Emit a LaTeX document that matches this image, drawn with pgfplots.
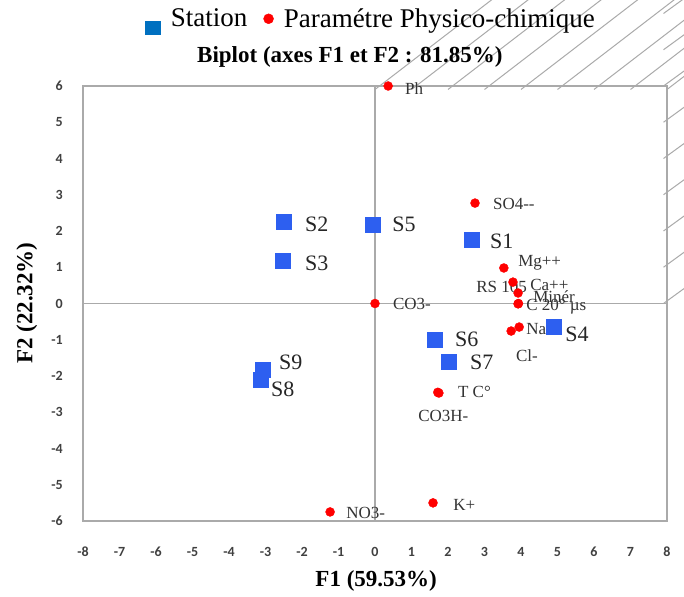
\documentclass[border=0pt]{standalone}
\usepackage{pgfplots}
\pgfplotsset{compat=1.18}
\usetikzlibrary{backgrounds}
\usepackage{fontspec}
\setmainfont{Liberation Serif}
\newfontfamily\carlito{Carlito}
\definecolor{sblue}{RGB}{45,95,240}
\definecolor{legblue}{RGB}{0,112,192}
\definecolor{axgray}{RGB}{170,170,170}
\begin{document}
\begin{tikzpicture}
\begin{axis}[
  scale only axis, width=584pt, height=435pt,
  xmin=-8, xmax=8, ymin=-6, ymax=6,
  axis line style={axgray, line width=1.5pt},
  xtick={-8,...,8}, ytick={-6,...,6},
  major tick length=0pt,
  /pgf/number format/assume math mode=true,
  tick label style={font=\carlito\bfseries\fontsize{14}{16}\selectfont, text=black!75},
  xticklabel style={anchor=center, yshift=-31pt},
  yticklabel style={anchor=east, inner sep=0pt, xshift=-20pt},
  title={Biplot (axes F1 et F2 : 81.85\%)},
  title style={font=\bfseries\fontsize{23}{27}\selectfont, at={(axis description cs:0.457,1.052)}, anchor=center},
  xlabel={F1 (59.53\%)},
  xlabel style={font=\bfseries\fontsize{23}{27}\selectfont, at={(axis description cs:0.502,-0.138)}, anchor=center},
  ylabel={F2 (22.32\%)},
  ylabel style={font=\bfseries\fontsize{23}{27}\selectfont, at={(axis description cs:-0.096,0.501)}, anchor=center},
  legend style={at={(axis description cs:0.4935,1.151)}, anchor=center, draw=none, fill=none,
    legend columns=2, font=\fontsize{27}{31}\selectfont,
    /tikz/every odd column/.append style={column sep=8pt},
    /tikz/every even column/.append style={column sep=14pt}},
  clip=false,
]
\addlegendimage{legend image code/.code={\fill[legblue] (0pt,-15pt) rectangle (15pt,-2pt);}}
\addlegendentry{Station}
\addlegendimage{legend image code/.code={\fill[red] (5pt,0pt) circle (5pt);}}
\addlegendentry{Paramétre Physico-chimique}

\draw[axgray, line width=1.2pt] (axis cs:-8,0) -- (axis cs:8,0);
\draw[axgray, line width=1.2pt] (axis cs:0,-6) -- (axis cs:0,6);
\pgfplotsinvokeforeach{-8,...,8}{\draw[axgray, line width=1pt] (axis cs:#1,0) ++(0,-3.5pt) -- ++(0,7pt);}
\pgfplotsinvokeforeach{-6,...,6}{\draw[axgray, line width=1pt] (axis cs:0,#1) ++(-3.5pt,0) -- ++(7pt,0);}

% Stations
\addplot[only marks, mark=square*, mark size=7.5pt, color=sblue, forget plot] coordinates {
  (2.66,1.75) (-2.49,2.25) (-2.52,1.17) (4.90,-0.65) (-0.05,2.18)
  (1.64,-1.00) (2.03,-1.61) (-3.13,-2.11) (-3.08,-1.83)
};
% Parameters
\addplot[only marks, mark=*, mark size=4.5pt, color=red, forget plot] coordinates {
  (0.36,6.00) (2.74,2.77) (3.53,0.98) (3.78,0.59) (3.92,0.29) (3.93,0.00)
  (3.92,-0.01) (3.95,-0.65) (3.73,-0.76) (0,0) (1.75,-2.47) (1.72,-2.45)
  (1.59,-5.50) (-1.23,-5.75)
};

% Station labels
\begin{scope}[every node/.style={anchor=west, inner sep=0pt, font=\fontsize{22}{26}\selectfont, text=black!85}]
\node at (axis cs:3.15,1.72) {S1};
\node at (axis cs:-1.92,2.19) {S2};
\node at (axis cs:-1.92,1.12) {S3};
\node at (axis cs:5.21,-0.84) {S4};
\node at (axis cs:0.47,2.19) {S5};
\node at (axis cs:2.19,-1.00) {S6};
\node at (axis cs:2.60,-1.61) {S7};
\node at (axis cs:-2.85,-2.36) {S8};
\node at (axis cs:-2.63,-1.61) {S9};
\end{scope}
% Parameter labels
\begin{scope}[every node/.style={anchor=west, inner sep=0pt, font=\fontsize{17}{20}\selectfont, text=black!80}]
\node at (axis cs:0.82,5.94) {Ph};
\node at (axis cs:3.23,2.74) {SO4-{}-};
\node at (axis cs:3.92,1.12) {Mg++};
\node at (axis cs:2.77,0.46) {RS 105};
\node at (axis cs:4.25,0.50) {Ca++};
\node at (axis cs:4.33,0.18) {Minér};
\node at (axis cs:4.14,-0.10) {C 20° µs};
\node at (axis cs:4.14,-0.70) {Na+};
\node at (axis cs:3.86,-1.45) {Cl-};
\node at (axis cs:0.49,-0.01) {CO3-};
\node at (axis cs:2.27,-2.44) {T C°};
\node at (axis cs:1.18,-3.10) {CO3H-};
\node at (axis cs:2.14,-5.56) {K+};
\node at (axis cs:-0.79,-5.78) {NO3-};
\end{scope}
\coordinate (ll) at (rel axis cs:0,0);
\coordinate (ur) at (rel axis cs:1,1);
\end{axis}
\pgfresetboundingbox
\path[use as bounding box] ([shift={(-83pt,-76pt)}]ll) rectangle ([shift={(17pt,86pt)}]ur);
\begin{pgfonlayer}{background}
\fill[white] ([shift={(-83pt,-76pt)}]ll) rectangle ([shift={(17pt,86pt)}]ur);
\end{pgfonlayer}
\end{tikzpicture}
\end{document}
